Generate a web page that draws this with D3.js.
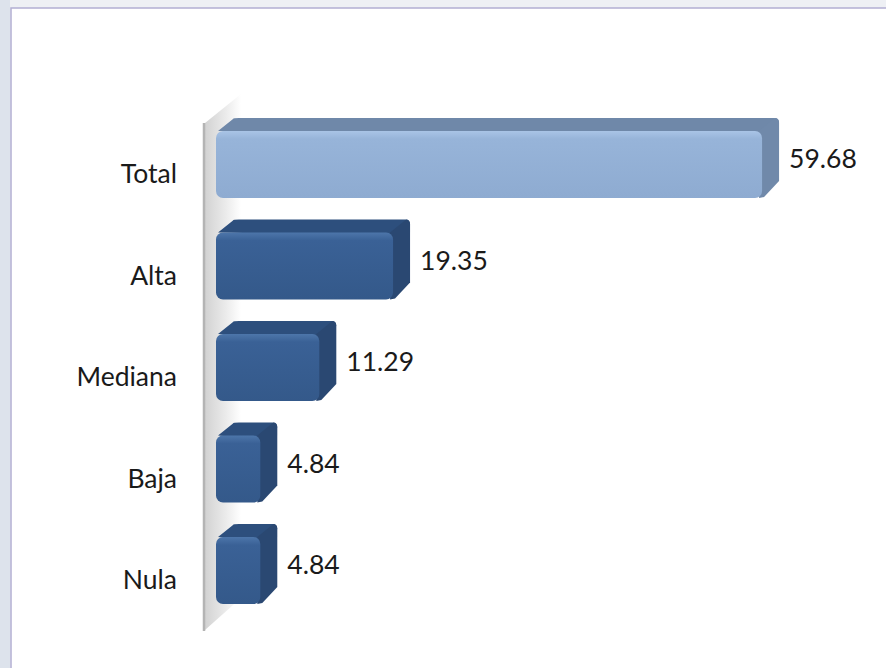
<!DOCTYPE html>
<html>
<head>
<meta charset="utf-8">
<script src="https://cdn.jsdelivr.net/npm/d3@7"></script>
<style>
  body { margin: 0; background: #eef0f4; }
  svg text { font-family: Lato, "Open Sans", sans-serif; fill: #1a1a1a; }
</style>
</head>
<body>
<div id="wrapper"></div>
<script>
// data
const categories = ['Total', 'Alta', 'Mediana', 'Baja', 'Nula']
const values = [59.68, 19.35, 11.29, 4.84, 4.84]
const valueLabels = ['59.68', '19.35', '11.29', '4.84', '4.84']

const dataset = categories.map((c, i) => ({ cat: c, value: values[i], label: valueLabels[i], total: i === 0 }))

function drawChart() {
    let dimensions = { width: 886, height: 668 }

    const wrapper = d3.select('#wrapper')
        .append('svg')
            .attr('width', dimensions.width)
            .attr('height', dimensions.height)

    // page / panel background
    wrapper.append('rect').attr('width', 886).attr('height', 668).attr('fill', '#eef0f4')
    wrapper.append('rect').attr('width', 10).attr('height', 668).attr('fill', '#dde3ec')
    wrapper.append('rect').attr('x', 11).attr('y', 8).attr('width', 880).attr('height', 670)
        .attr('fill', '#fff').attr('stroke', '#b3afd2').attr('stroke-width', 1.5)

    const defs = wrapper.append('defs')
    const wallGrad = defs.append('linearGradient').attr('id', 'wall')
        .attr('x1', 0).attr('x2', 1).attr('y1', 0).attr('y2', 0)
    wallGrad.append('stop').attr('offset', 0).attr('stop-color', '#d2d2d2')
    wallGrad.append('stop').attr('offset', 0.6).attr('stop-color', '#ececec')
    wallGrad.append('stop').attr('offset', 1).attr('stop-color', '#ffffff')

    const frontGrad = (id, c1, c2, c3) => {
        const g = defs.append('linearGradient').attr('id', id)
            .attr('x1', 0).attr('x2', 0).attr('y1', 0).attr('y2', 1)
        g.append('stop').attr('offset', 0).attr('stop-color', c1)
        g.append('stop').attr('offset', 0.12).attr('stop-color', c2)
        g.append('stop').attr('offset', 1).attr('stop-color', c3)
    }
    frontGrad('frontLight', '#a9c4e6', '#97b4d9', '#8eabd1')
    frontGrad('frontDark', '#4d76aa', '#3a6196', '#34598a')

    // scales
    const xScale = d3.scaleLinear()
        .domain([0, 60])
        .range([216, 765])

    const yScale = d3.scalePoint()
        .domain(categories)
        .range([164.5, 570.5])

    const barH = 67
    const dx = 17, dy = 13
    const x0 = xScale(0)

    // side wall
    wrapper.append('path')
        .attr('d', `M205,123 L241,94 L241,598 L205,630 Z`)
        .attr('fill', 'url(#wall)')
    wrapper.append('line')
        .attr('x1', 204).attr('x2', 204).attr('y1', 123).attr('y2', 631)
        .attr('stroke', '#b4b4b4').attr('stroke-width', 2.5)

    const bars = wrapper.selectAll('g.bar')
        .data(dataset)
        .enter().append('g')
            .attr('class', 'bar')

    // top face
    bars.append('path')
        .attr('d', d => {
            const y = yScale(d.cat) - barH / 2
            const x1 = xScale(d.value)
            return `M${x0 + 2},${y} L${x0 + dx},${y - dy + 1} Q${x0 + dx},${y - dy} ${x0 + dx + 6},${y - dy} L${x1 + dx - 5},${y - dy} Q${x1 + dx},${y - dy} ${x1 + dx},${y - dy + 5} L${x1},${y + 4} Z`
        })
        .attr('fill', d => d.total ? '#6f88a9' : '#2d4f7d')

    // side face
    bars.append('path')
        .attr('d', d => {
            const y = yScale(d.cat) - barH / 2
            const x1 = xScale(d.value)
            return `M${x1 - 3},${y} L${x1 + dx - 4},${y - dy} Q${x1 + dx},${y - dy} ${x1 + dx},${y - dy + 5} L${x1 + dx},${y + barH - dy - 4} L${x1 + 2},${y + barH - 1} L${x1 - 3},${y + barH} Z`
        })
        .attr('fill', d => d.total ? '#7089aa' : '#2a4872')

    // front face
    bars.append('rect')
        .attr('x', x0)
        .attr('y', d => yScale(d.cat) - barH / 2)
        .attr('width', d => xScale(d.value) - x0)
        .attr('height', barH)
        .attr('rx', 7)
        .attr('fill', d => d.total ? 'url(#frontLight)' : 'url(#frontDark)')

    // value labels
    bars.append('text')
        .attr('x', d => xScale(d.value) + dx + 10)
        .attr('y', d => yScale(d.cat) - 3)
        .attr('dominant-baseline', 'middle')
        .style('font-size', '26.5px')
        .text(d => d.label)

    // category labels
    wrapper.selectAll('text.cat')
        .data(dataset)
        .enter().append('text')
            .attr('class', 'cat')
            .attr('x', 177)
            .attr('y', d => yScale(d.cat) + 12)
            .attr('text-anchor', 'end')
            .attr('dominant-baseline', 'middle')
            .style('font-size', '26.5px')
            .text(d => d.cat)
}

drawChart()
</script>
</body>
</html>
